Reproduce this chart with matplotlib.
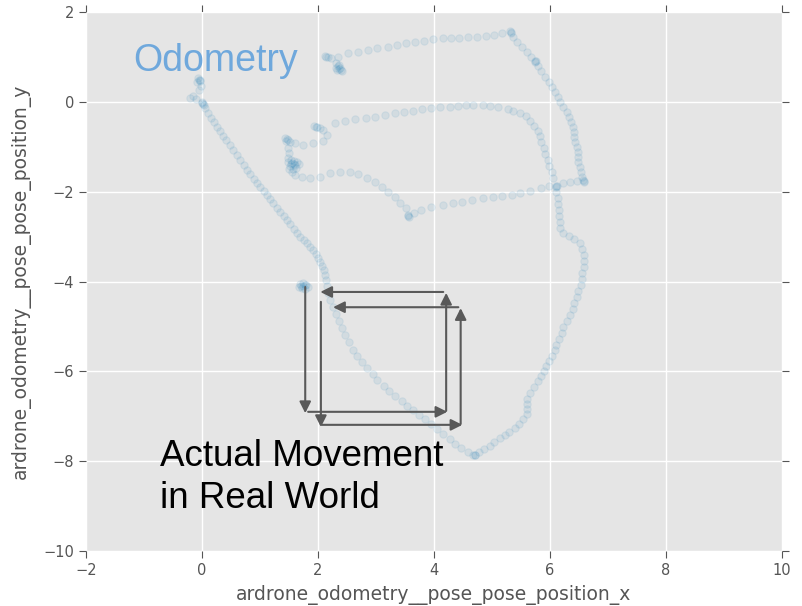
import matplotlib
matplotlib.use("Agg")
import matplotlib.pyplot as plt
import numpy as np

# ---------------- data (odometry x/y positions) ----------------
start_x = [-0.07, -0.03, -0.09, -0.02, -0.05, -0.16, -0.21, -0.10, 0.00, 0.02, 0.00, 0.03, -0.06, -0.04]
start_y = [0.53, 0.49, 0.45, 0.36, 0.27, 0.13, 0.09, 0.07, 0.00, -0.04, -0.02, -0.07, 0.50, 0.47]

diag_x = [0.05, 0.10, 0.16, 0.21, 0.26, 0.31, 0.36, 0.41, 0.48, 0.54, 0.60, 0.66, 0.73, 0.78,
          0.83, 0.90, 0.95, 1.00, 1.07, 1.12, 1.17, 1.23, 1.30, 1.35, 1.42, 1.47, 1.52, 1.59,
          1.64, 1.69, 1.76, 1.81, 1.87, 1.92, 1.97, 2.00, 2.04, 2.07, 2.11, 2.12, 2.14]
diag_y = [-0.13, -0.24, -0.36, -0.45, -0.56, -0.65, -0.76, -0.85, -0.96, -1.07, -1.18, -1.29,
          -1.40, -1.51, -1.60, -1.71, -1.80, -1.89, -1.98, -2.07, -2.16, -2.25, -2.36, -2.45,
          -2.54, -2.63, -2.72, -2.83, -2.92, -3.01, -3.07, -3.14, -3.23, -3.30, -3.39, -3.47,
          -3.56, -3.65, -3.74, -3.85, -3.96]

lower_x = [2.16, 2.18, 2.21, 2.26, 2.31, 2.37, 2.42, 2.47, 2.54, 2.61, 2.68, 2.76, 2.85, 2.94,
           3.02, 3.13, 3.23, 3.33, 3.44, 3.54, 3.64, 3.75, 3.85, 3.95, 4.06, 4.16, 4.27, 4.37,
           4.47, 4.58, 4.68, 4.70, 4.71]
lower_y = [-4.10, -4.25, -4.41, -4.57, -4.72, -4.88, -5.03, -5.19, -5.34, -5.52, -5.66, -5.79,
           -5.92, -6.06, -6.19, -6.32, -6.44, -6.55, -6.66, -6.77, -6.86, -6.97, -7.06, -7.17,
           -7.28, -7.39, -7.50, -7.62, -7.71, -7.79, -7.86, -7.87, -7.86]

loop_x = [4.78, 4.87, 4.96, 5.04, 5.13, 5.22, 5.30, 5.39, 5.47, 5.54, 5.60, 5.61, 5.61, 5.60,
          5.65, 5.72, 5.79, 5.84, 5.89, 5.94, 5.99, 6.03, 6.08, 6.11, 6.15, 6.20, 6.23, 6.29,
          6.34, 6.39, 6.42, 6.46, 6.49, 6.53, 6.55, 6.56, 6.58, 6.58, 6.58, 6.56, 6.51, 6.42,
          6.32, 6.23, 6.18, 6.17, 6.15, 6.15, 6.13, 6.13, 6.11, 6.11, 6.10, 6.12]
loop_y = [-7.79, -7.73, -7.66, -7.57, -7.48, -7.42, -7.35, -7.26, -7.17, -7.06, -6.95, -6.84,
          -6.73, -6.61, -6.48, -6.35, -6.21, -6.10, -5.99, -5.88, -5.77, -5.66, -5.52, -5.41,
          -5.28, -5.14, -5.01, -4.88, -4.74, -4.61, -4.48, -4.34, -4.21, -4.08, -3.94, -3.81,
          -3.67, -3.54, -3.41, -3.27, -3.14, -3.05, -2.98, -2.92, -2.81, -2.67, -2.54, -2.41,
          -2.27, -2.14, -2.00, -1.89, -1.86, -1.88]

spur_x = [6.22, 6.34, 6.46, 6.58, 6.57, 6.59]
spur_y = [-1.80, -1.78, -1.76, -1.76, -1.74, -1.77]

desc_x = [5.32, 5.33, 5.31, 5.37, 5.44, 5.51, 5.60, 5.68, 5.75, 5.76, 5.74, 5.80, 5.85, 5.92,
          5.98, 6.03, 6.08, 6.13, 6.18, 6.23, 6.29, 6.32, 6.36, 6.39, 6.41, 6.42, 6.44, 6.46,
          6.48, 6.49, 6.49, 6.51, 6.53, 6.55]
desc_y = [1.56, 1.54, 1.58, 1.45, 1.34, 1.22, 1.11, 1.00, 0.91, 0.92, 0.90, 0.80, 0.69, 0.56,
          0.45, 0.33, 0.22, 0.11, 0.00, -0.11, -0.22, -0.33, -0.45, -0.56, -0.67, -0.78, -0.89,
          -1.00, -1.11, -1.22, -1.34, -1.45, -1.56, -1.67]

top_x = [5.18, 5.03, 4.89, 4.75, 4.59, 4.44, 4.30, 4.15, 3.99, 3.83, 3.68, 3.52, 3.37, 3.20,
         3.02, 2.87, 2.69, 2.52, 2.35]
top_y = [1.54, 1.49, 1.47, 1.45, 1.45, 1.43, 1.43, 1.43, 1.40, 1.36, 1.34, 1.31, 1.27, 1.22,
         1.20, 1.16, 1.11, 1.09, 1.00]

knot_x = [2.12, 2.18, 2.23, 2.31, 2.35, 2.38, 2.33, 2.42, 2.37, 2.31, 2.36, 2.40, 2.14]
knot_y = [1.02, 1.00, 0.98, 0.87, 0.80, 0.76, 0.71, 0.69, 0.83, 0.76, 0.74, 0.72, 1.00]

mid_x = [2.30, 2.47, 2.64, 2.82, 2.99, 3.16, 3.33, 3.49, 3.64, 3.80, 3.95, 4.11, 4.27, 4.42,
         4.56, 4.68, 4.84, 4.97, 5.11, 5.27, 5.37, 5.49, 5.58,
         5.66, 5.73, 5.79, 5.82, 5.85, 5.89, 5.92, 5.96, 5.99, 6.03, 6.06]
mid_y = [-0.47, -0.42, -0.38, -0.36, -0.33, -0.29, -0.25, -0.22, -0.20, -0.16, -0.13, -0.11,
         -0.11, -0.09, -0.07, -0.07, -0.07, -0.09, -0.11, -0.16, -0.20, -0.25, -0.31,
         -0.42, -0.53, -0.65, -0.76, -0.89, -1.02, -1.16, -1.29, -1.43, -1.56, -1.69]

hook_x = [1.99, 1.93, 2.04, 1.97, 2.09, 2.16, 2.09, 1.92, 1.74, 1.61,
          1.43, 1.49, 1.52, 1.45, 1.47, 1.49, 1.50]
hook_y = [-0.56, -0.53, -0.58, -0.55, -0.62, -0.73, -0.87, -0.91, -0.96, -0.91,
          -0.80, -0.85, -0.89, -0.87, -0.83, -1.02, -1.14]

blob_x = [1.49, 1.49, 1.54, 1.59, 1.64, 1.68, 1.52, 1.57, 1.62, 1.50, 1.55, 1.59, 1.53, 1.61, 1.56]
blob_y = [-1.25, -1.34, -1.37, -1.32, -1.34, -1.39, -1.43, -1.48, -1.46, -1.50, -1.55, -1.39,
          -1.30, -1.41, -1.36]

curve_x = [1.61, 1.73, 1.87, 2.04, 2.21, 2.38, 2.56, 2.69, 2.85, 2.99, 3.11, 3.21, 3.33, 3.42,
           3.51, 3.56, 3.55, 3.57]
curve_y = [-1.63, -1.67, -1.69, -1.67, -1.58, -1.56, -1.56, -1.60, -1.69, -1.78, -1.89, -2.00,
           -2.12, -2.25, -2.36, -2.54, -2.52, -2.55]

link_x = [3.66, 3.77, 3.94, 4.15, 4.32, 4.49, 4.66, 4.84, 5.01, 5.18, 5.35, 5.49, 5.66, 5.84, 5.98]
link_y = [-2.47, -2.41, -2.34, -2.29, -2.25, -2.23, -2.18, -2.14, -2.12, -2.09, -2.07, -2.03,
          -1.98, -1.92, -1.87]

home_x = [1.69, 1.74, 1.80, 1.73, 1.78, 1.68, 1.83, 1.75, 1.77, 1.71]
home_y = [-4.05, -4.03, -4.08, -4.14, -4.16, -4.12, -4.12, -4.10, -4.07, -4.09]

# actual movement arrows: (x_start, y_start, x_end, y_end)
move_x0 = [1.78, 1.83, 4.21, 4.16, 2.05, 2.07, 4.46, 4.42]
move_y0 = [-4.12, -6.90, -6.88, -4.23, -4.45, -7.19, -7.17, -4.57]
move_x1 = [1.78, 4.23, 4.21, 2.04, 2.05, 4.49, 4.46, 2.26]
move_y1 = [-6.93, -6.90, -4.25, -4.23, -7.24, -7.19, -4.59, -4.57]

x_ticks = [-2, 0, 2, 4, 6, 8, 10]
y_ticks = [2, 0, -2, -4, -6, -8, -10]

# ---------------- figure ----------------
fig = plt.figure(figsize=(8.03, 6.06), dpi=100)
ax = fig.add_axes([0.1071, 0.0908, 0.8667, 0.8889])
ax.set_facecolor("#e5e5e5")
for s in ax.spines.values():
    s.set_visible(False)
ax.grid(True, color="white", linewidth=1.0)
ax.set_axisbelow(True)

all_x = np.concatenate([start_x, diag_x, lower_x, loop_x, spur_x, desc_x, top_x, knot_x,
                        mid_x, hook_x, blob_x, curve_x, link_x, home_x])
all_y = np.concatenate([start_y, diag_y, lower_y, loop_y, spur_y, desc_y, top_y, knot_y,
                        mid_y, hook_y, blob_y, curve_y, link_y, home_y])
ax.scatter(all_x, all_y, s=28, color="#348ABD", alpha=0.10, linewidths=0.8,
           edgecolors="#348ABD", zorder=3)

for x0, y0, x1, y1 in zip(move_x0, move_y0, move_x1, move_y1):
    ax.annotate("", xy=(x1, y1), xytext=(x0, y0),
                arrowprops=dict(arrowstyle="-|>", color="#595959", lw=1.5,
                                mutation_scale=17, shrinkA=0, shrinkB=0),
                zorder=4)

ax.set_xlim(-2, 10)
ax.set_ylim(-10, 2)
ax.set_xticks(x_ticks)
ax.set_yticks(y_ticks)
ax.tick_params(axis="both", which="both", direction="out", length=5, width=0.8,
               color="#555555", labelcolor="#555555", labelsize=10.5,
               top=True, right=True)
ax.set_xlabel("ardrone_odometry__pose_pose_position_x", fontsize=13.5, color="#555555",
              labelpad=5)
ax.set_ylabel("ardrone_odometry__pose_pose_position_y", fontsize=13.5, color="#555555",
              labelpad=9)

ax.text(-1.19, 0.69, "Odometry", fontsize=27, color="#6fa8dc",
        family=["Liberation Sans", "DejaVu Sans"], va="baseline", ha="left", zorder=5)
ax.text(-0.73, -8.11, "Actual Movement", fontsize=26.5, color="black",
        family=["Liberation Sans", "DejaVu Sans"], va="baseline", ha="left", zorder=5)
ax.text(-0.73, -9.04, "in Real World", fontsize=26.5, color="black",
        family=["Liberation Sans", "DejaVu Sans"], va="baseline", ha="left", zorder=5)

fig.savefig("out.png", dpi=100, facecolor="white")
